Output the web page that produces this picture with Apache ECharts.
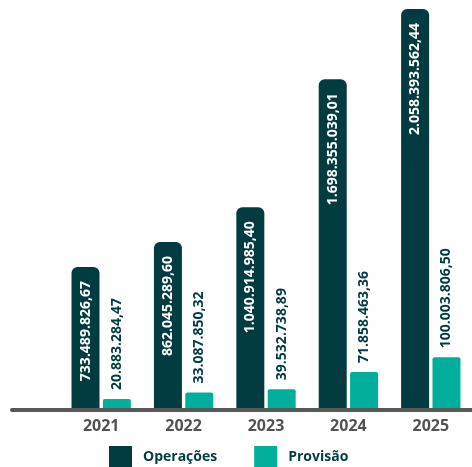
<!DOCTYPE html>
<html>
<head>
<meta charset="utf-8">
<script src="https://cdn.jsdelivr.net/npm/echarts@6/dist/echarts.min.js"></script>
<style>html,body{margin:0;padding:0;background:#fff;}#c{width:472px;height:467px;}</style>
</head>
<body>
<div id="c"></div>
<script>
const categories = ['2021', '2022', '2023', '2024', '2025'];
const operacoes = [733489826.67, 862045289.60, 1040914985.40, 1698355039.01, 2058393562.44];
const provisao = [20883284.47, 33087850.32, 39532738.89, 71858463.36, 100003806.50];
const seriesNames = ['Operações', 'Provisão'];

function fmtBR(v) {
  const parts = v.toFixed(2).split('.');
  const intPart = parts[0].replace(/\B(?=(\d{3})+(?!\d))/g, '.');
  return intPart + ',' + parts[1];
}

const DARK = '#023c41';
const TEAL = '#00af9b';
const FONT = '"Open Sans", "Noto Sans", sans-serif';

const chart = echarts.init(document.getElementById('c'), null, {renderer: 'canvas'});
chart.setOption({
  animation: false,
  backgroundColor: '#ffffff',
  legend: {
    data: seriesNames,
    left: 109,
    top: 446,
    padding: 0,
    itemWidth: 23,
    itemHeight: 23,
    itemGap: 37,
    icon: 'rect',
    textStyle: {color: DARK, fontFamily: FONT, fontWeight: 'bold', fontSize: 14, padding: [0, 0, 4, 6]}
  },
  grid: [
    {left: 60, width: 415, top: 9, bottom: 57},
    {left: 12, right: 0, top: 9, bottom: 57}
  ],
  xAxis: [
    {
      type: 'category', gridIndex: 0, data: categories,
      axisLine: {show: false}, axisTick: {show: false},
      axisLabel: {color: '#525252', fontFamily: FONT, fontWeight: 'bold', fontSize: 16, margin: 8}
    },
    {
      type: 'value', gridIndex: 1, z: 10,
      axisLine: {show: true, onZero: false, lineStyle: {color: '#585858', width: 4}},
      axisTick: {show: false}, axisLabel: {show: false}, splitLine: {show: false}
    }
  ],
  yAxis: [
    {type: 'value', gridIndex: 0, min: 0, max: 2058393562.44, show: false, splitLine: {show: false}},
    {type: 'value', gridIndex: 0, min: 0, max: 760000000, show: false, splitLine: {show: false}},
    {type: 'value', gridIndex: 1, show: false}
  ],
  series: [
    {
      name: seriesNames[0], type: 'bar', xAxisIndex: 0, yAxisIndex: 0,
      data: operacoes, barWidth: 28, barGap: '12%',
      itemStyle: {color: DARK, borderRadius: [6, 6, 0, 0]},
      label: {
        show: true, position: 'insideTop', rotate: 90, distance: 14,
        align: 'right', verticalAlign: 'middle',
        color: '#ffffff', fontFamily: FONT, fontWeight: 'bold', fontSize: 14,
        formatter: p => fmtBR(p.value)
      }
    },
    {
      name: seriesNames[1], type: 'bar', xAxisIndex: 0, yAxisIndex: 1,
      data: provisao, barWidth: 28, barGap: '12%',
      itemStyle: {color: TEAL, borderRadius: [2, 2, 0, 0]},
      label: {
        show: true, position: 'top', rotate: 90, distance: 9,
        align: 'left', verticalAlign: 'middle',
        color: DARK, fontFamily: FONT, fontWeight: 'bold', fontSize: 14,
        formatter: p => fmtBR(p.value)
      }
    }
  ]
});
</script>
</body>
</html>
